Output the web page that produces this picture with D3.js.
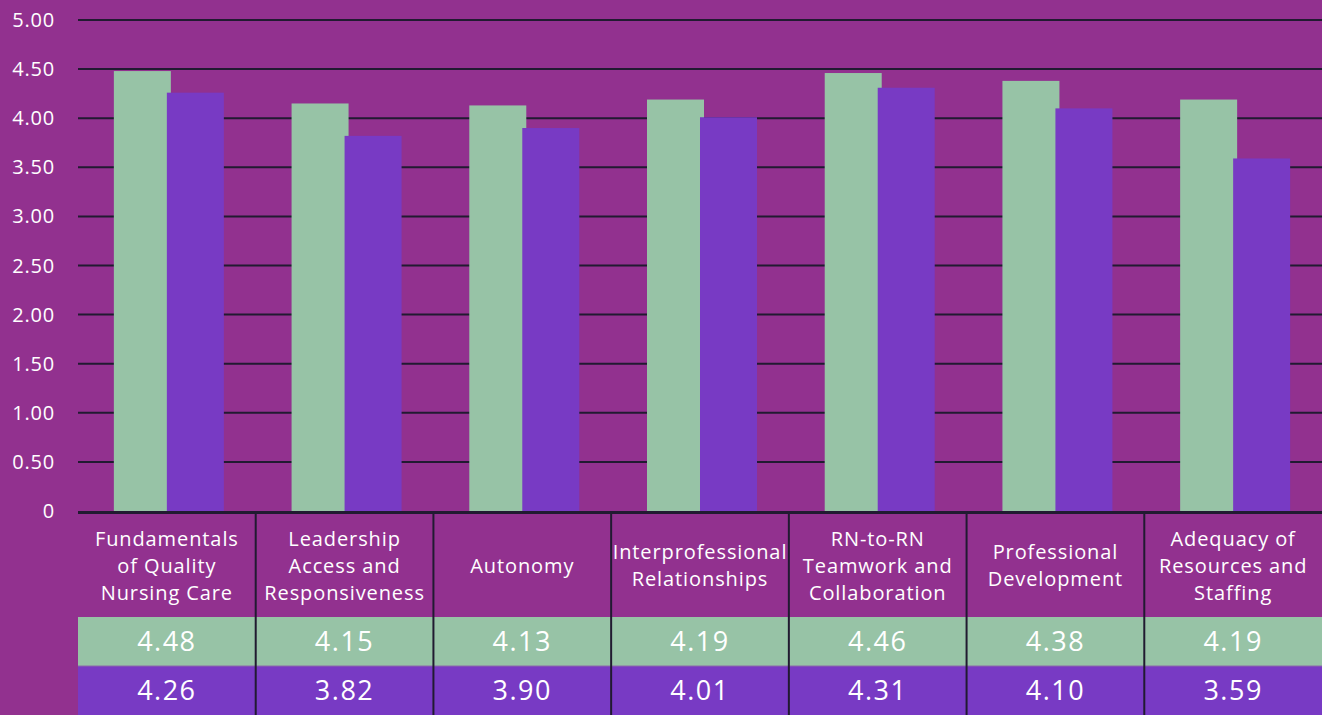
<!DOCTYPE html>
<html>
<head>
<meta charset="utf-8">
<script src="https://cdn.jsdelivr.net/npm/d3@7"></script>
<style>
  html, body { margin: 0; padding: 0; background: #92318f; }
  svg { display: block; font-family: 'Open Sans', 'Noto Sans', sans-serif; }
</style>
</head>
<body>
<svg id="chart"></svg>
<script>
// categories (multi-line header labels)
const categories = [
  ['Fundamentals', 'of Quality', 'Nursing Care'],
  ['Leadership', 'Access and', 'Responsiveness'],
  ['Autonomy'],
  ['Interprofessional', 'Relationships'],
  ['RN-to-RN', 'Teamwork and', 'Collaboration'],
  ['Professional', 'Development'],
  ['Adequacy of', 'Resources and', 'Staffing']
];
const seriesA = [4.48, 4.15, 4.13, 4.19, 4.46, 4.38, 4.19];
const seriesB = [4.26, 3.82, 3.90, 4.01, 4.31, 4.10, 3.59];
const yTicks = [0, 0.5, 1, 1.5, 2, 2.5, 3, 3.5, 4, 4.5, 5];

const W = 1322, H = 715;
const bg = '#92318f', green = '#97c3a6', purple = '#783ac4', dark = '#211a31';
const margin = { left: 78, right: 0, top: 20 };
const plotBottom = 511;
const headerBottom = 617, rowH = 49;

const svg = d3.select('#chart').attr('width', W).attr('height', H);
svg.append('rect').attr('width', W).attr('height', H).attr('fill', bg);

const x = d3.scaleBand()
  .domain(d3.range(categories.length))
  .range([margin.left, W - margin.right]);

const y = d3.scaleLinear().domain([0, 5]).range([plotBottom, margin.top]);

// gridlines + tick labels
const grid = svg.append('g');
grid.selectAll('line')
  .data(yTicks.filter(d => d > 0))
  .enter().append('line')
  .attr('x1', margin.left).attr('x2', W)
  .attr('y1', d => y(d)).attr('y2', d => y(d))
  .attr('stroke', dark).attr('stroke-width', 2);

grid.selectAll('text')
  .data(yTicks)
  .enter().append('text')
  .attr('x', 55)
  .attr('y', d => y(d))
  .attr('dy', '0.35em')
  .attr('text-anchor', 'end')
  .attr('fill', '#fff')
  .attr('font-size', 20)
  .attr('letter-spacing', 0.8)
  .text(d => d === 0 ? '0' : d3.format('.2f')(d));

// bars
const barW = 57;
const bars = svg.append('g');
bars.selectAll('rect.a')
  .data(seriesA)
  .enter().append('rect')
  .attr('class', 'a')
  .attr('x', (d, i) => x(i) + x.bandwidth() / 2 - 53)
  .attr('y', d => y(d))
  .attr('width', barW)
  .attr('height', d => y(0) - y(d))
  .attr('fill', green);
bars.selectAll('rect.b')
  .data(seriesB)
  .enter().append('rect')
  .attr('class', 'b')
  .attr('x', (d, i) => x(i) + x.bandwidth() / 2)
  .attr('y', d => y(d))
  .attr('width', barW)
  .attr('height', d => y(0) - y(d))
  .attr('fill', purple);

// baseline
svg.append('line')
  .attr('x1', margin.left).attr('x2', W)
  .attr('y1', y(0) + 1.5).attr('y2', y(0) + 1.5)
  .attr('stroke', dark).attr('stroke-width', 3);

// table
const table = svg.append('g');
table.selectAll('rect.ra')
  .data(seriesA)
  .enter().append('rect')
  .attr('x', (d, i) => x(i)).attr('y', headerBottom)
  .attr('width', x.bandwidth()).attr('height', rowH)
  .attr('fill', green);
table.selectAll('rect.rb')
  .data(seriesB)
  .enter().append('rect')
  .attr('x', (d, i) => x(i)).attr('y', headerBottom + rowH)
  .attr('width', x.bandwidth()).attr('height', H - headerBottom - rowH)
  .attr('fill', purple);

const headerMid = (plotBottom + 3 + headerBottom) / 2;
const lineH = 27;
table.selectAll('text.h')
  .data(categories)
  .enter().append('text')
  .attr('text-anchor', 'middle')
  .attr('fill', '#fff')
  .attr('font-size', 20)
  .attr('letter-spacing', 0.9)
  .each(function(lines, i) {
    const t = d3.select(this);
    const y0 = headerMid - (lines.length - 1) * lineH / 2;
    lines.forEach((l, k) => {
      t.append('tspan')
        .attr('x', x(i) + x.bandwidth() / 2)
        .attr('y', y0 + k * lineH)
        .attr('dy', '0.35em')
        .text(l);
    });
  });

const valueText = (sel, data, yc) => sel.selectAll(null)
  .data(data)
  .enter().append('text')
  .attr('x', (d, i) => x(i) + x.bandwidth() / 2)
  .attr('y', yc)
  .attr('dy', '0.35em')
  .attr('text-anchor', 'middle')
  .attr('fill', '#fff')
  .attr('font-size', 27)
  .attr('letter-spacing', 1.5)
  .text(d => d3.format('.2f')(d));
valueText(table, seriesA, headerBottom + rowH / 2);
valueText(table, seriesB, headerBottom + rowH + (H - headerBottom - rowH) / 2);

// row separator
table.append('line')
  .attr('x1', margin.left).attr('x2', W)
  .attr('y1', headerBottom + rowH).attr('y2', headerBottom + rowH)
  .attr('stroke', '#8a6aa8').attr('stroke-width', 1);

// column dividers
table.selectAll('line.v')
  .data(d3.range(1, categories.length))
  .enter().append('line')
  .attr('x1', i => x(i)).attr('x2', i => x(i))
  .attr('y1', y(0) + 3).attr('y2', H)
  .attr('stroke', dark).attr('stroke-width', 2);
</script>
</body>
</html>
